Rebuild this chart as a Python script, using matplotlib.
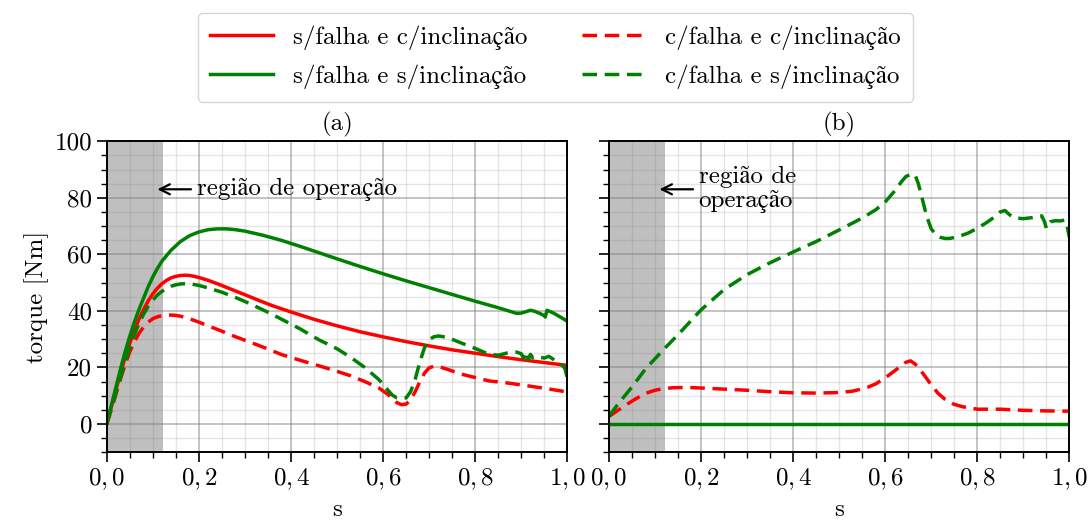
import matplotlib
matplotlib.use("Agg")
import matplotlib.pyplot as plt
from matplotlib.ticker import MultipleLocator, FuncFormatter

plt.rcParams['font.family'] = ['cmr10', 'STIXGeneral']
plt.rcParams['mathtext.fontset'] = 'cm'
plt.rcParams['axes.unicode_minus'] = False
plt.rcParams['font.size'] = 18

RED = '#ff0000'
GREEN = '#008000'

# (a) curves
a_sf_ci_x = [0, 0.01, 0.02, 0.03, 0.04, 0.05, 0.06, 0.07, 0.08, 0.09, 0.1, 0.11, 0.12, 0.13, 0.14, 0.15, 0.16, 0.17, 0.18, 0.19, 0.2,
             0.22, 0.24, 0.26, 0.28, 0.3, 0.33, 0.36, 0.4, 0.45, 0.5, 0.55, 0.6, 0.65, 0.7, 0.75, 0.8, 0.85, 0.9, 0.95, 1.0]
a_sf_ci_y = [0, 6, 12, 18, 23.5, 28.5, 33, 37, 40.5, 43.5, 46, 48, 49.6, 50.8, 51.7, 52.2, 52.5, 52.6, 52.5, 52.2, 51.8,
             50.8, 49.6, 48.3, 47, 45.7, 43.7, 41.8, 39.6, 37, 34.7, 32.6, 30.8, 29.1, 27.6, 26.2, 25, 23.8, 22.7, 21.7, 20.7]

a_sf_si_x = [0, 0.01, 0.02, 0.03, 0.04, 0.05, 0.06, 0.07, 0.08, 0.09, 0.1, 0.11, 0.12, 0.14, 0.16, 0.18, 0.2, 0.22, 0.24, 0.26, 0.28,
             0.3, 0.34, 0.38, 0.42, 0.46, 0.5, 0.55, 0.6, 0.65, 0.7, 0.75, 0.8, 0.85, 0.88, 0.89, 0.9, 0.91, 0.92, 0.93, 0.94,
             0.95, 0.952, 0.956, 0.97, 0.985, 1.0]
a_sf_si_y = [0, 6.5, 13, 19.5, 25.5, 31, 36, 40.5, 44.5, 48.5, 52, 55, 57.6, 61.5, 64.5, 66.6, 67.9, 68.7, 69.0, 69.0, 68.7,
             68.2, 66.7, 64.9, 62.8, 60.6, 58.4, 55.7, 53.1, 50.6, 48.2, 45.8, 43.4, 41.1, 39.6, 39.1, 39.2, 39.7, 40.2, 39.8, 39.1,
             38.3, 37.8, 40.2, 39.2, 37.8, 36.3]

a_cf_ci_x = [0, 0.01, 0.02, 0.03, 0.04, 0.05, 0.06, 0.07, 0.08, 0.09, 0.1, 0.11, 0.12, 0.13, 0.14, 0.15, 0.16, 0.17, 0.18, 0.2,
             0.22, 0.25, 0.28, 0.31, 0.35, 0.38, 0.42, 0.46, 0.5, 0.53, 0.56, 0.59, 0.61, 0.62, 0.63, 0.64, 0.65, 0.66, 0.67,
             0.68, 0.69, 0.7, 0.71, 0.72, 0.74, 0.77, 0.8, 0.83, 0.86, 0.9, 0.95, 1.0]
a_cf_ci_y = [0, 5, 10.5, 16, 21, 25.5, 29, 32, 34.3, 36, 37.2, 37.9, 38.3, 38.5, 38.5, 38.4, 38.1, 37.7, 37.2, 36,
             34.7, 32.8, 30.8, 29, 26.5, 24.5, 22.5, 20.6, 18.6, 17, 15, 12.8, 10.5, 9, 7.5, 6.8, 7.0, 8.6, 11.5,
             15, 18, 19.8, 20.4, 20.3, 19.3, 17.6, 16.4, 15.2, 14.7, 13.8, 12.6, 11.3]

a_cf_si_x = [0, 0.01, 0.02, 0.03, 0.04, 0.05, 0.06, 0.07, 0.08, 0.09, 0.1, 0.11, 0.12, 0.13, 0.14, 0.15, 0.16, 0.17, 0.18, 0.19, 0.2,
             0.22, 0.25, 0.28, 0.31, 0.35, 0.38, 0.42, 0.46, 0.5, 0.53, 0.56, 0.59, 0.6, 0.61, 0.62, 0.63, 0.64, 0.65, 0.66,
             0.67, 0.68, 0.69, 0.7, 0.71, 0.72, 0.74, 0.77, 0.8, 0.83, 0.85, 0.87, 0.89, 0.9, 0.905, 0.91, 0.915, 0.92, 0.925,
             0.93, 0.94, 0.95, 0.96, 0.97, 0.98, 0.99, 0.995, 1.0]
a_cf_si_y = [0, 5.5, 11, 16.5, 22, 27, 31.5, 35.5, 38.8, 41.6, 43.8, 45.6, 46.9, 47.9, 48.7, 49.2, 49.5, 49.6, 49.5, 49.3, 49,
             48.1, 46.6, 44.7, 42.6, 39.5, 37, 33.6, 29.8, 26.6, 23.5, 20, 15.8, 14, 12, 10.2, 9.2, 9, 9.2, 11.5,
             16, 22, 27, 29.8, 30.8, 31.1, 30.6, 28.6, 26.7, 24.6, 24.3, 25.1, 25.4, 24.8, 23.2, 25.5, 22.8, 24.6, 23.4,
             23.8, 23.6, 23.3, 23.9, 22.8, 21.6, 20.6, 19.5, 16.1]

# (b) curves
b_sf_si_x = [0, 1.0]
b_sf_si_y = [0, 0]

b_cf_ci_x = [0, 0.02, 0.04, 0.06, 0.08, 0.1, 0.12, 0.14, 0.17, 0.2, 0.25, 0.3, 0.35, 0.4, 0.45, 0.5, 0.53, 0.56, 0.58,
             0.6, 0.62, 0.635, 0.645, 0.655, 0.665, 0.675, 0.685, 0.7, 0.715, 0.73, 0.75, 0.77, 0.8, 0.85, 0.9, 0.95, 1.0]
b_cf_ci_y = [2.6, 4.8, 7, 9, 10.8, 11.9, 12.5, 12.8, 12.9, 12.7, 12.3, 11.9, 11.4, 11, 10.9, 11.1, 11.6, 12.8, 14.2,
             16.3, 18.7, 20.6, 21.8, 22.3, 21.2, 19.3, 17.2, 13.8, 10.8, 8.7, 6.9, 6, 5.2, 5.2, 4.8, 4.6, 4.5]

b_cf_si_x = [0, 0.02, 0.05, 0.08, 0.1, 0.12, 0.15, 0.2, 0.25, 0.3, 0.35, 0.4, 0.45, 0.5, 0.55, 0.58, 0.6, 0.62, 0.635,
             0.645, 0.655, 0.665, 0.672, 0.68, 0.69, 0.7, 0.71, 0.72, 0.73, 0.74, 0.76, 0.78, 0.8, 0.82, 0.84, 0.85, 0.86,
             0.87, 0.88, 0.9, 0.92, 0.94, 0.946, 0.95, 0.953, 0.958, 0.97, 0.98, 0.99, 0.995, 1.0]
b_cf_si_y = [2.6, 7, 13, 19.5, 23, 26.5, 31.5, 40.3, 47.5, 52.8, 57, 60.8, 64.5, 68.6, 72.8, 75.8, 78.5, 82.3, 85.6,
             87.5, 88.3, 88.1, 85, 80, 73.5, 69, 67, 66, 65.6, 65.6, 66.3, 67.5, 69.2, 71.2, 73.5, 75, 75.5,
             74, 72.9, 72.6, 73, 73.6, 71.5, 69.2, 70.5, 71.5, 71.9, 71.8, 72.1, 70, 66]

labels = ['s/falha e c/inclinação', 's/falha e s/inclinação',
          'c/falha e c/inclinação', 'c/falha e s/inclinação']

fig, (ax1, ax2) = plt.subplots(1, 2, figsize=(10.89, 5.27), dpi=100, sharey=True)
fig.subplots_adjust(left=0.098, right=0.982, bottom=0.142, top=0.732, wspace=0.09)

dash = (0, (4.2, 2.2))
lw = 2.5

ax1.plot(a_sf_ci_x, a_sf_ci_y, color=RED, lw=lw, label=labels[0])
ax1.plot(a_sf_si_x, a_sf_si_y, color=GREEN, lw=lw, label=labels[1])
ax1.plot(a_cf_ci_x, a_cf_ci_y, color=RED, lw=lw, ls=dash, label=labels[2])
ax1.plot(a_cf_si_x, a_cf_si_y, color=GREEN, lw=lw, ls=dash, label=labels[3])

ax2.plot(b_sf_si_x, b_sf_si_y, color=GREEN, lw=lw)
ax2.plot(b_cf_ci_x, b_cf_ci_y, color=RED, lw=lw, ls=dash)
ax2.plot(b_cf_si_x, b_cf_si_y, color=GREEN, lw=lw, ls=dash)

fmt = FuncFormatter(lambda v, p: ('$%.1f$' % v).replace('.', '{,}\\,'))

for ax, title in [(ax1, '(a)'), (ax2, '(b)')]:
    ax.axvspan(0, 0.123, color='gray', alpha=0.5, lw=0, zorder=1.5)
    ax.set_xlim(0, 1)
    ax.set_ylim(-10, 100)
    ax.xaxis.set_major_locator(MultipleLocator(0.2))
    ax.xaxis.set_minor_locator(MultipleLocator(0.05))
    ax.yaxis.set_major_locator(MultipleLocator(20))
    ax.yaxis.set_minor_locator(MultipleLocator(5))
    ax.xaxis.set_major_formatter(fmt)
    ax.grid(which='major', color='gray', alpha=0.55, lw=1.2)
    ax.grid(which='minor', color='gray', alpha=0.2, lw=1.0)
    ax.set_axisbelow(True)
    ax.tick_params(which='major', length=7, width=1.2)
    ax.tick_params(which='minor', length=4, width=1.0)
    for s in ax.spines.values():
        s.set_linewidth(1.4)
    ax.set_xlabel('s', labelpad=5)
    ax.set_title(title, fontsize=18, pad=8)

ax1.set_ylabel('torque [Nm]')

ax1.annotate('região de operação', xy=(0.11, 83), xytext=(0.195, 83),
             va='center', ha='left', fontsize=18,
             arrowprops=dict(arrowstyle='->', color='black', lw=1.6, shrinkA=2, shrinkB=0))
ax2.annotate('região de\noperação', xy=(0.11, 83), xytext=(0.195, 83),
             va='center', ha='left', fontsize=18, linespacing=1.15,
             arrowprops=dict(arrowstyle='->', color='black', lw=1.6, shrinkA=2, shrinkB=0))

h, l = ax1.get_legend_handles_labels()
fig.legend(h, l, loc='upper center', ncol=2, bbox_to_anchor=(0.51, 1.0),
           fontsize=18, frameon=True, edgecolor='#cccccc', fancybox=True,
           columnspacing=2.2, handlelength=2.5, labelspacing=0.6, borderpad=0.5)

fig.savefig('out.png', dpi=100)
